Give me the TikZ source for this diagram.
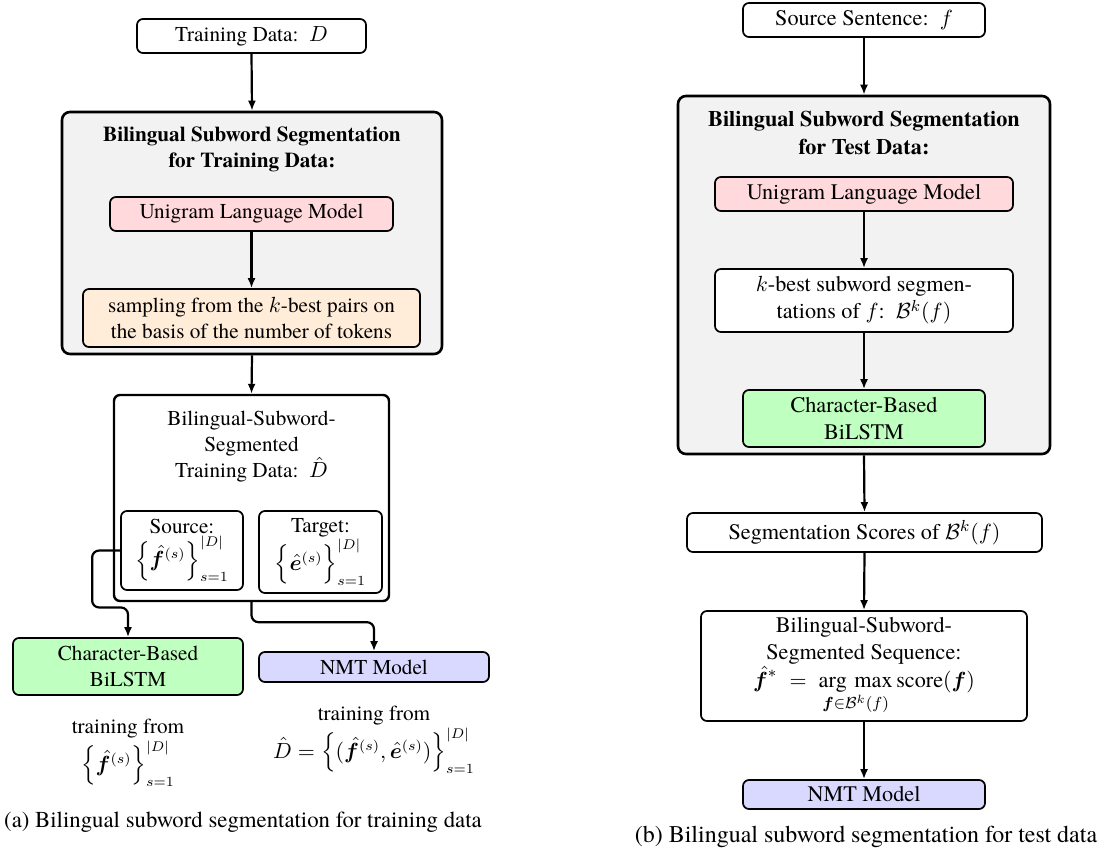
\documentclass[tikz,border=0pt]{standalone}
\usepackage{fontspec}
\setmainfont{texgyretermes-regular.otf}[BoldFont=texgyretermes-bold.otf, ItalicFont=texgyretermes-italic.otf, BoldItalicFont=texgyretermes-bolditalic.otf]
\usepackage{amsmath,bm}
\usetikzlibrary{arrows.meta,calc}
\definecolor{pinkc}{RGB}{255,217,220}
\definecolor{orangec}{RGB}{255,236,217}
\definecolor{greenc}{RGB}{191,255,191}
\definecolor{bluec}{RGB}{217,217,255}
\begin{document}
\begin{tikzpicture}[x=0.5pt,y=-0.5pt,
  font=\fontsize{10.6}{13}\selectfont,
  box/.style={draw, rounded corners=3pt, line width=0.85pt, align=center, inner sep=0pt},
  grp/.style={draw, rounded corners=4pt, line width=1.3pt, fill=black!5, inner sep=0pt},
  txt/.style={align=center, inner sep=0pt},
  arr/.style={-{Latex[length=5pt,width=4pt]}, line width=1.1pt},
  arrc/.style={arr, rounded corners=3.5pt}]
\useasboundingbox (0,0) rectangle (1106,854);

% ---------------- left panel ----------------
\node[box, minimum width=114.5pt, minimum height=17pt] (td) at (251.5,36) {Training Data:~~$D$};
\node[grp, minimum width=190pt, minimum height=121pt] (gL) at (252,233) {};
\node[txt, font=\fontsize{10.6}{13}\selectfont\bfseries] (tL) at (252,149) {Bilingual Subword Segmentation\\for Training Data:};
\node[box, fill=pinkc, minimum width=141.5pt, minimum height=17pt] (uniL) at (251.5,214) {Unigram Language Model};
\node[box, fill=orangec, minimum width=168.5pt, minimum height=29pt] (samp) at (251.5,318) {sampling from the $k$-best pairs on\\the basis of the number of tokens};

\node[box, line width=1.2pt, minimum width=137.5pt, minimum height=103pt] (bssd) at (251.5,498) {};
\node[txt] (bssdt) at (251.5,447) {Bilingual-Subword-\\Segmented\\Training Data:~~$\hat{D}$};
\node[box, minimum width=61pt, minimum height=39.5pt] (src) at (182,550.5) {Source:\\$\Bigl\{\hat{\bm f}^{(s)}\Bigr\}_{s=1}^{|D|}$};
\node[box, minimum width=61.5pt, minimum height=41pt] (tgt) at (320.5,552) {Target:\\$\Bigl\{\hat{\bm e}^{(s)}\Bigr\}_{s=1}^{|D|}$};

\node[box, fill=greenc, minimum width=115pt, minimum height=28.5pt] (chL) at (128,666.5) {Character-Based\\BiLSTM};
\node[box, fill=bluec, minimum width=115pt, minimum height=15pt] (nmtL) at (374,667) {NMT Model};

\node[txt, anchor=north] (trL) at (128,719) {training from\\$\Bigl\{\hat{\bm f}^{(s)}\Bigr\}_{s=1}^{|D|}$};
\node[txt, anchor=north] (trR) at (374,706) {training from\\$\hat{D}=\Bigl\{(\hat{\bm f}^{(s)},\hat{\bm e}^{(s)})\Bigr\}_{s=1}^{|D|}$};

\node[txt, font=\fontsize{11.4}{13.6}\selectfont] (capA) at (243,822) {(a) Bilingual subword segmentation for training data};

\draw[arr] (td.south) -- (gL.north);
\draw[arr] (uniL.south) -- (samp.north);
\draw[arr] (gL.south) -- (bssd.north);
\draw[arrc] (src.west) -- ++(-28,0) -- ++(0,57) -| (chL.north);
\draw[arrc] (bssd.south) -- ++(0,20) -| (nmtL.north);

% ---------------- right panel ----------------
\begin{scope}[font=\fontsize{11.1}{13.6}\selectfont]
\node[box, minimum width=121pt, minimum height=17pt] (ss) at (864,20) {Source Sentence:~~$f$};
\node[grp, minimum width=186pt, minimum height=179pt] (gR) at (864,275) {};
\node[txt, font=\fontsize{11.1}{13.6}\selectfont\bfseries] (tR) at (864,133) {Bilingual Subword Segmentation\\for Test Data:};
\node[box, fill=pinkc, minimum width=149pt, minimum height=17pt] (uniR) at (864,194) {Unigram Language Model};
\node[box, fill=white, minimum width=149pt, minimum height=31.5pt] (kb) at (864,300.5) {$k$-best subword segmen-\\tations of $f$:~~$\mathcal{B}^k(f)$};
\node[box, fill=greenc, minimum width=121pt, minimum height=28.5pt] (chR) at (864,418.5) {Character-Based\\BiLSTM};

\node[box, minimum width=177.5pt, minimum height=19.5pt] (sc) at (864.5,532.5) {Segmentation Scores of $\mathcal{B}^k(f)$};
\node[box, minimum width=163pt, minimum height=55pt] (bss) at (864,666) {Bilingual-Subword-\\Segmented Sequence:\\$\displaystyle \hat{\bm f}^{*}\;=\;\mathop{\arg\,\max}_{\bm f\in\mathcal{B}^k(f)}\mathrm{score}(\bm f)$};
\node[box, fill=bluec, minimum width=121pt, minimum height=14.5pt] (nmtR) at (864,794.5) {NMT Model};

\node[txt, font=\fontsize{12}{14.4}\selectfont] (capB) at (866,837) {(b) Bilingual subword segmentation for test data};
\end{scope}

\draw[arr] (ss.south) -- (gR.north);
\draw[arr] (uniR.south) -- (kb.north);
\draw[arr] (kb.south) -- (chR.north);
\draw[arr] (gR.south) -- (sc.north);
\draw[arr] (sc.south) -- (bss.north);
\draw[arr] (bss.south) -- (nmtR.north);
\end{tikzpicture}
\end{document}
